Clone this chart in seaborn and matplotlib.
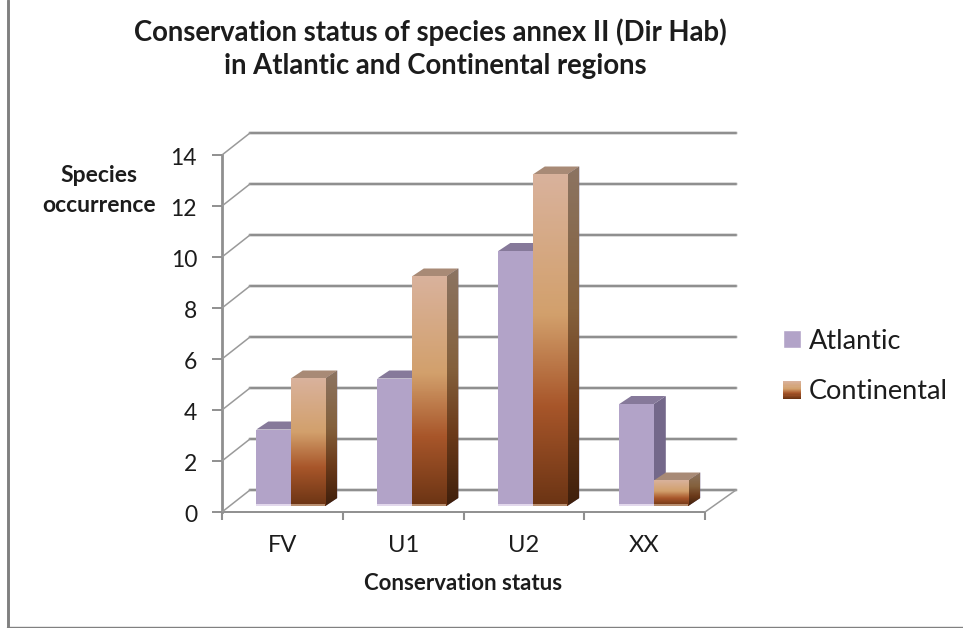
import matplotlib
matplotlib.use("Agg")
import matplotlib.pyplot as plt
from matplotlib.colors import LinearSegmentedColormap
from matplotlib.legend_handler import HandlerBase
from matplotlib.lines import Line2D
from matplotlib.patches import Patch, Polygon, Rectangle
from matplotlib.transforms import ScaledTranslation
import numpy as np
import pandas as pd
import seaborn as sns

# values
status = ["FV", "U1", "U2", "XX"]
atlantic = [3, 5, 10, 4]
continental = [5, 9, 13, 1]
y_ticks = [0, 2, 4, 6, 8, 10, 12, 14]

W, H = 963, 628
GREY = "#8f8f8f"
TEXT = "#1c1c1c"
PURPLE = "#b2a3c8"

sns.set_style("white")
plt.rcParams["font.family"] = ["Lato", "DejaVu Sans"]

# gradients go bottom -> top
cm_front = LinearSegmentedColormap.from_list(
    "front", [(0, "#6b3414"), (0.3, "#a8562a"), (0.58, "#d2a06c"), (1, "#d9b29c")])
cm_side = LinearSegmentedColormap.from_list(
    "side", [(0, "#3f1f0c"), (0.3, "#6b3a1a"), (0.58, "#84603c"), (1, "#8c7462")])
grad = np.linspace(1, 0, 128).reshape(-1, 1)

# one pixel scale for both axes
PX_CAT = 121.0
PX_UNIT = 25.5
X0 = 290.8   # pixel of first category centre
Y0 = 506.0   # pixel of value 0 on the bars


def px_x(p):
    return (p - X0) / PX_CAT


def px_y(p):
    return (Y0 - p) / PX_UNIT


def ax_rect(left, right, bottom, top):
    return [left / W, 1 - bottom / H, (right - left) / W, (bottom - top) / H]


class GradientHandle(HandlerBase):
    # legend key with a stack of thin strips
    def create_artists(self, legend, orig, x, y, w, h, fontsize, trans):
        n = 16
        out = []
        for i in range(n):
            r = Rectangle((x, y + h * i / n), w, h / n + 0.2, transform=trans,
                          fc=cm_front(i / (n - 1)), lw=0)
            out.append(r)
        return out


fig = plt.figure(figsize=(W / 100, H / 100), dpi=100)
fig.patch.set_facecolor("white")

# front axes: the left axis and the floor edge
ax = fig.add_axes(ax_rect(222, 705, 512, 155))
ax.set_xlim(0, 4)
ax.set_ylim(0, 14)
ax.patch.set_visible(False)
sns.despine(ax=ax)
ax.spines["left"].set_color(GREY)
ax.spines["left"].set_linewidth(2.0)
ax.spines["bottom"].set_color(GREY)
ax.spines["bottom"].set_linewidth(1.4)
ax.set_yticks(y_ticks)
ax.set_xticks([0, 1, 2, 3, 4])
ax.set_xticklabels([])
ax.set_xticks([0.5, 1.5, 2.5, 3.5], labels=status, minor=True)
ax.tick_params(axis="y", length=7, width=1.4, color=GREY, labelsize=16.5,
               labelcolor=TEXT, pad=11, left=True)
ax.tick_params(axis="x", which="major", length=5.5, width=1.5, color=GREY, bottom=True)
ax.tick_params(axis="x", which="minor", length=0, labelsize=17, labelcolor=TEXT, pad=16.5)
ax.set_xlabel("Conservation status", fontsize=16, fontweight="bold", color=TEXT, labelpad=12)
for lbl in ax.get_yticklabels():
    lbl.set_transform(lbl.get_transform() + ScaledTranslation(0, -1.5 / 100, fig.dpi_scale_trans))

# overlay axes: walls and bars
ax2 = fig.add_axes(ax_rect(222, 738, 512, 130), zorder=3)
df = pd.DataFrame({
    "status": status * 2,
    "count": atlantic + continental,
    "region": ["Atlantic"] * 4 + ["Continental"] * 4,
})
sns.barplot(data=df, x="status", y="count", hue="region", order=status,
            palette={"Atlantic": PURPLE, "Continental": "#c98b5a"},
            width=0.57, gap=0, legend=False, saturation=1, linewidth=0, ax=ax2)
ax2.set_xlim(px_x(222), px_x(738))
ax2.set_ylim(px_y(512), px_y(130))
ax2.axis("off")

# back wall, side wall, floor
back = px_y(490)
front = px_y(512)
for v in y_ticks:
    ax2.plot([px_x(250), px_x(736)], [v + back, v + back], color="#d8d8d8", lw=2.6, zorder=0.5)
    ax2.plot([px_x(250), px_x(736)], [v + back, v + back], color=GREY, lw=1.5, zorder=0.6)
    ax2.plot([px_x(222), px_x(250)], [v + front, v + back], color="#9a9a9a", lw=1.1, zorder=0.6)
ax2.plot([px_x(705), px_x(736)], [front, back], color="#9a9a9a", lw=1.1, zorder=0.6)

# 3d faces on the bars seaborn drew
dx = 12 / PX_CAT
dy = 8 / PX_UNIT
for k, cont in enumerate(ax2.containers):
    for bar in cont:
        x0 = bar.get_x()
        x1 = x0 + bar.get_width()
        h = bar.get_height()
        z = 2 + bar.get_x() + k * 0.1
        bar.set_zorder(z + 0.05)
        side = Polygon([(x1, 0), (x1 + dx, dy), (x1 + dx, h + dy), (x1, h)], lw=0,
                       fc="#74688a", zorder=z)
        top = Polygon([(x0, h), (x0 + dx, h + dy), (x1 + dx, h + dy), (x1, h)], lw=0,
                      fc="#86799a" if k == 0 else "#a88a76", zorder=z)
        ax2.add_patch(side)
        ax2.add_patch(top)
        base = "#e2d8ec" if k == 0 else "#b98f70"
        ax2.add_patch(Rectangle((x0, 0), x1 - x0, 1.8 / PX_UNIT, fc=base, lw=0, zorder=z + 0.2))
        if k == 1:
            im = ax2.imshow(grad, cmap=cm_front, vmin=0, vmax=1, aspect="auto",
                            extent=(x0, x1, 0, h), zorder=z + 0.1)
            im2 = ax2.imshow(grad, cmap=cm_side, vmin=0, vmax=1, aspect="auto",
                             extent=(x1, x1 + dx, 0, h + dy), zorder=z + 0.01)
            im2.set_clip_path(side)
ax2.set_xlim(px_x(222), px_x(738))
ax2.set_ylim(px_y(512), px_y(130))

# legend
handles = [Patch(fc=PURPLE, label="Atlantic"), Patch(label="Continental")]
fig.legend(handles=handles, loc="upper left", bbox_to_anchor=(775 / W, 1 - 320.5 / H),
           frameon=False, fontsize=19.5, labelcolor=TEXT, handlelength=0.65, handleheight=0.65,
           handletextpad=0.3, labelspacing=0.92, borderpad=0.3, borderaxespad=0,
           handler_map={handles[1]: GradientHandle()})

fig.text(430 / W, 1 - 32 / H, "Conservation status of species annex II (Dir Hab)",
         ha="center", va="center", fontsize=19.8, fontweight="bold", color=TEXT)
fig.text(435 / W, 1 - 66 / H, "in Atlantic and Continental regions",
         ha="center", va="center", fontsize=19.8, fontweight="bold", color=TEXT)
fig.text(99 / W, 1 - 176 / H, "Species", ha="center", va="center",
         fontsize=16.5, fontweight="bold", color=TEXT)
fig.text(99 / W, 1 - 205 / H, "occurrence", ha="center", va="center",
         fontsize=16.5, fontweight="bold", color=TEXT)

# picture frame
fig.add_artist(Line2D([7.5 / W, 7.5 / W], [1 - 627 / H, 1], color="#808080", lw=2.1))
fig.add_artist(Line2D([7 / W, 1], [1 - 627 / H, 1 - 627 / H], color="#808080", lw=1.0))

fig.savefig("out.png", dpi=100)
